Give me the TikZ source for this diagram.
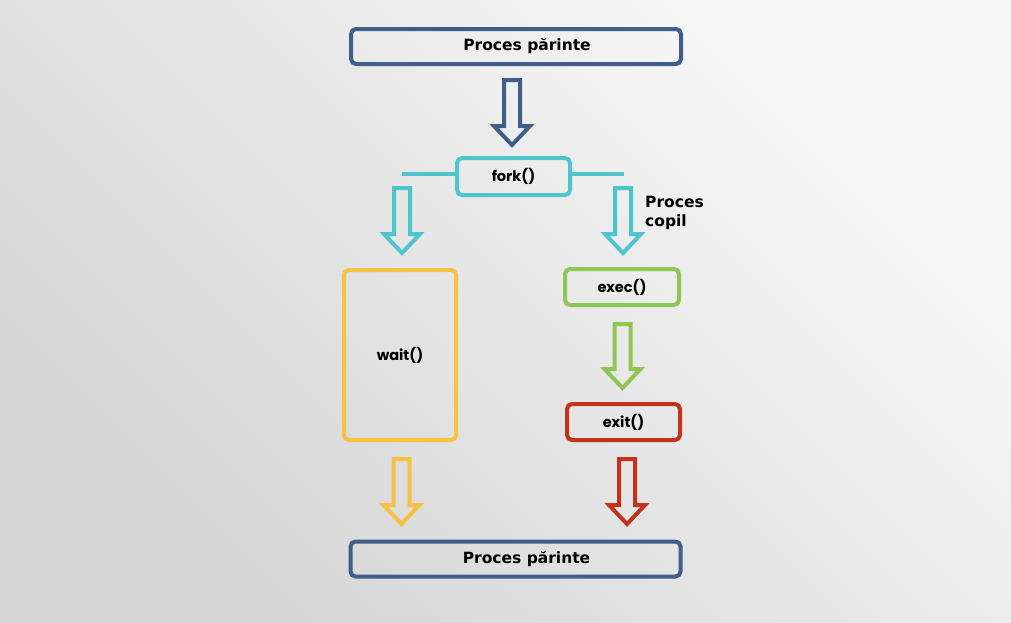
\documentclass[tikz,border=0pt]{standalone}
\usepackage{fontspec}
\setmainfont{DejaVu Sans}
\newfontfamily\gothic{Poppins}
\usetikzlibrary{calc}
\definecolor{cblue}{HTML}{3F5E8A}
\definecolor{ccyan}{HTML}{4EC5CD}
\definecolor{cyellow}{HTML}{F6C243}
\definecolor{cgreen}{HTML}{8DC652}
\definecolor{cred}{HTML}{C2331D}
\definecolor{bgdark}{HTML}{D4D4D4}
\definecolor{bglight}{HTML}{F9F9F9}
\tikzset{
  box/.style={draw, line width=4pt, rounded corners=5pt, inner sep=0pt, text=black},
  bigbox/.style={box, draw=cblue, minimum width=330pt, minimum height=35pt, font=\fontsize{15.5}{18}\selectfont\bfseries},
  smallbox/.style={box, font=\gothic\fontsize{14.5}{16}\selectfont\bfseries},
  blockarr/.style={line width=4pt, line join=miter, miter limit=10},
  forkline/.style={draw=ccyan, line width=4pt},
}
\newcommand\blockarrow[3]{\draw[blockarr,#1] let \p1=(#2), \p2=(#3) in
  (\x1-8pt,\y1) -- (\x1+8pt,\y1) -- (\x1+8pt,\y2+19pt) -- (\x1+18pt,\y2+19pt) --
  (\x1,\y2) -- (\x1-18pt,\y2+19pt) -- (\x1-8pt,\y2+19pt) -- cycle;}
\begin{document}
\begin{tikzpicture}[x=1pt,y=-1pt]
\shade[left color=bglight, right color=bgdark, shading angle=-45] (0,0) rectangle (1011,622);
\useasboundingbox (0,0) rectangle (1011,622);
% nodes
\node[bigbox] (top) at (516,46.5) {\hspace*{22pt}Proces părinte};
\node[smallbox, draw=ccyan, minimum width=113pt, minimum height=37pt] (fork) at (513.5,176.5) {fork()};
\node[smallbox, draw=cyellow, minimum width=112pt, minimum height=170pt] (wait) at (400,355) {wait()};
\node[smallbox, draw=cgreen, minimum width=114pt, minimum height=36pt] (exec) at (622,287) {exec()};
\node[smallbox, draw=cred, minimum width=113pt, minimum height=36pt] (exit) at (623.5,422) {exit()};
\node[bigbox] (bottom) at (515.5,559) {\hspace*{22pt}Proces părinte};
\node[anchor=west, align=left, inner sep=0pt, font=\fontsize{15.5}{19}\selectfont\bfseries] (copil) at (645,212.5) {Proces\\copil};
% fork side lines
\coordinate (fl) at (402,174);
\coordinate (fr) at (624,174);
\draw[forkline] (fl) -- (fl -| fork.west);
\draw[forkline] (fr) -- (fr -| fork.east);
% arrow coordinates
\coordinate (a1s) at (512,80);  \coordinate (a1e) at (512,145);
\coordinate (a2s) at (402,188); \coordinate (a2e) at (402,253);
\coordinate (a3s) at (623,188); \coordinate (a3e) at (623,253);
\coordinate (a4s) at (622.5,324); \coordinate (a4e) at (622.5,388);
\coordinate (a5s) at (401.5,459); \coordinate (a5e) at (401.5,524);
\coordinate (a6s) at (627,459); \coordinate (a6e) at (627,524);
\blockarrow{draw=cblue}{a1s}{a1e}
\blockarrow{draw=ccyan}{a2s}{a2e}
\blockarrow{draw=ccyan}{a3s}{a3e}
\blockarrow{draw=cgreen}{a4s}{a4e}
\blockarrow{draw=cyellow}{a5s}{a5e}
\blockarrow{draw=cred}{a6s}{a6e}
\end{tikzpicture}
\end{document}
